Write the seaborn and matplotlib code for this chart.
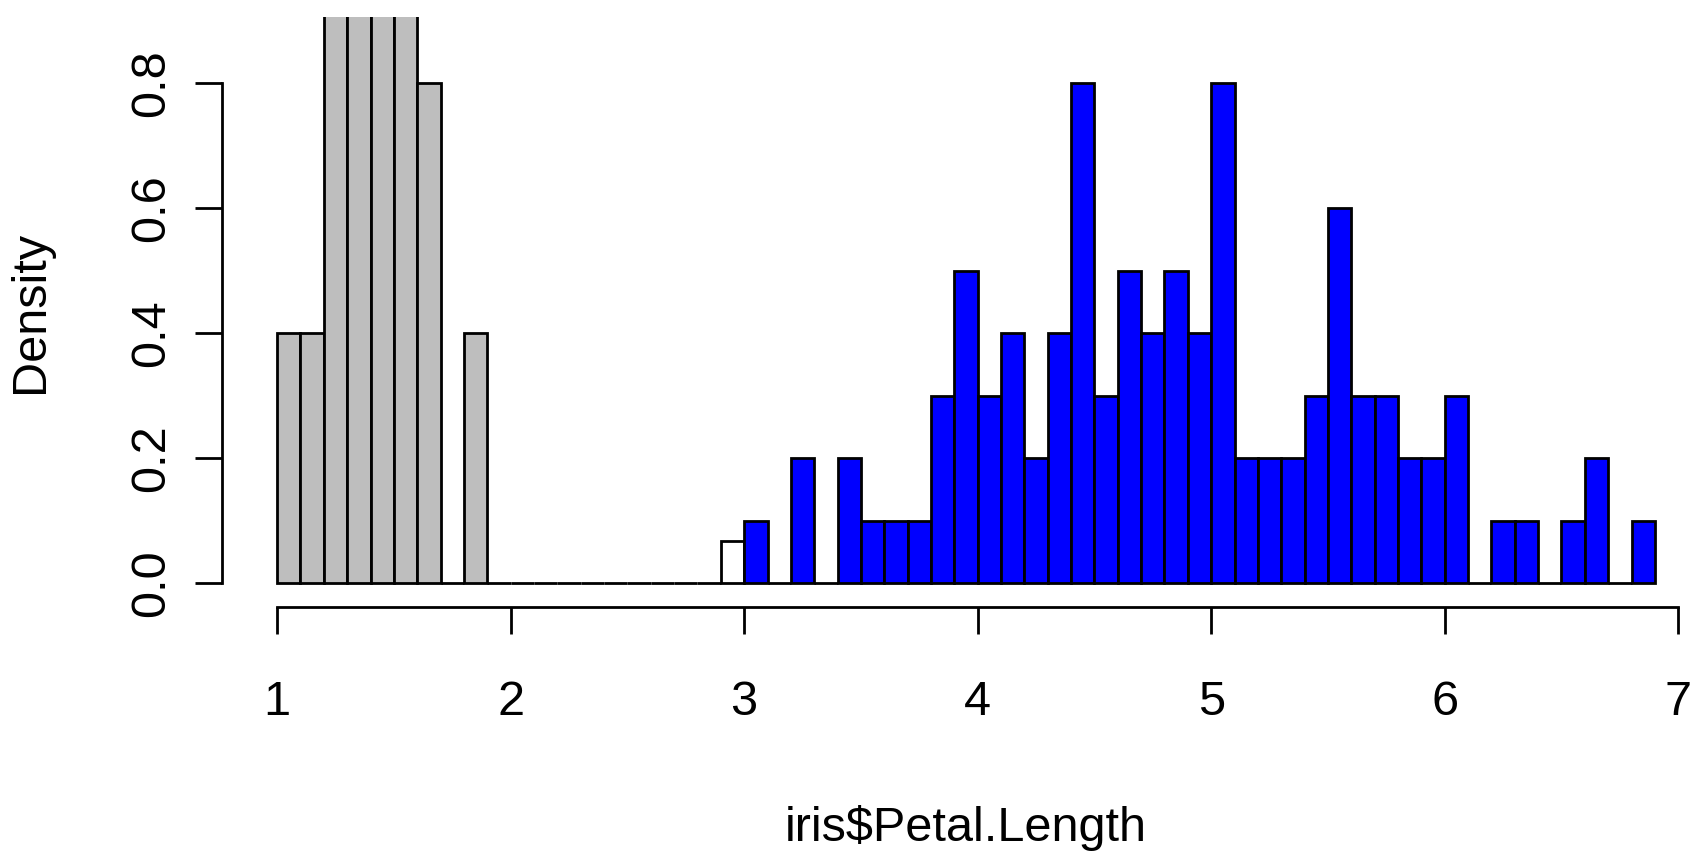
import matplotlib
matplotlib.use('Agg')

import matplotlib.pyplot as plt
import pandas as pd
import seaborn as sns

sns.set_style("white")
plt.rcParams['font.family'] = ['Liberation Sans', 'DejaVu Sans']
fs = 35

# bin heights (density), bin width 0.1
setosa_left = 1.0
setosa_density = [0.4, 0.4, 1.4, 2.6, 2.6, 1.4, 0.8, 0.0, 0.4]

gap_left = 1.9
gap_density = [0, 0, 0, 0, 0, 0, 0, 0, 0, 0, 0.0667]

other_left = 3.0
other_density = [0.1, 0.0, 0.2, 0.0, 0.2, 0.1, 0.1, 0.1, 0.3, 0.5,
                 0.3, 0.4, 0.2, 0.4, 0.8, 0.3, 0.5, 0.4, 0.5, 0.4,
                 0.8, 0.2, 0.2, 0.2, 0.3, 0.6, 0.3, 0.3, 0.2, 0.2,
                 0.3, 0.0, 0.1, 0.1, 0.0, 0.1, 0.2, 0.0, 0.1]

x_ticks = [1, 2, 3, 4, 5, 6, 7]
y_ticks = [0.0, 0.2, 0.4, 0.6, 0.8]
y_labels = ["0.0", "0.2", "0.4", "0.6", "0.8"]

fig = plt.figure(figsize=(16.98, 8.57), dpi=100)
ax = fig.add_axes([222 / 1698, 1 - 607 / 857, (1710 - 222) / 1698, (607 - 17) / 857])


def draw(left, heights, color):
    n = len(heights)
    edges = [round(left + 0.1 * i, 2) for i in range(n + 1)]
    df = pd.DataFrame({"x": [e + 0.05 for e in edges[:-1]], "w": heights})
    sns.histplot(data=df, x="x", weights="w", bins=edges, stat="count",
                 color=color, alpha=1, edgecolor="black", linewidth=2.0, ax=ax)


draw(gap_left, gap_density, "white")
draw(setosa_left, setosa_density, "#BEBEBE")
draw(other_left, other_density, "#0000FF")

ax.set_xlim(0.764, 7.136)
ax.set_ylim(-0.0384, 0.906)

for s in ["top", "right"]:
    ax.spines[s].set_visible(False)
ax.spines["left"].set_bounds(0, 0.8)
ax.spines["bottom"].set_bounds(1, 7)
for s in ["left", "bottom"]:
    ax.spines[s].set_linewidth(2.0)
    ax.spines[s].set_color("black")

ax.set_xticks(x_ticks)
ax.set_xticklabels([str(v) for v in x_ticks])
ax.set_yticks(y_ticks)
ax.set_yticklabels(y_labels, rotation=90, va="center")
ax.tick_params(axis="both", direction="out", length=19.5, width=2.0,
               labelsize=fs, colors="black", bottom=True, left=True)
ax.tick_params(axis="x", pad=33)
ax.tick_params(axis="y", pad=15)

ax.set_ylabel("Density", fontsize=fs, labelpad=55, color="black")
ax.set_xlabel("iris$Petal.Length", fontsize=fs, labelpad=58, color="black")
ax.grid(False)

fig.savefig("out.png", dpi=100)
